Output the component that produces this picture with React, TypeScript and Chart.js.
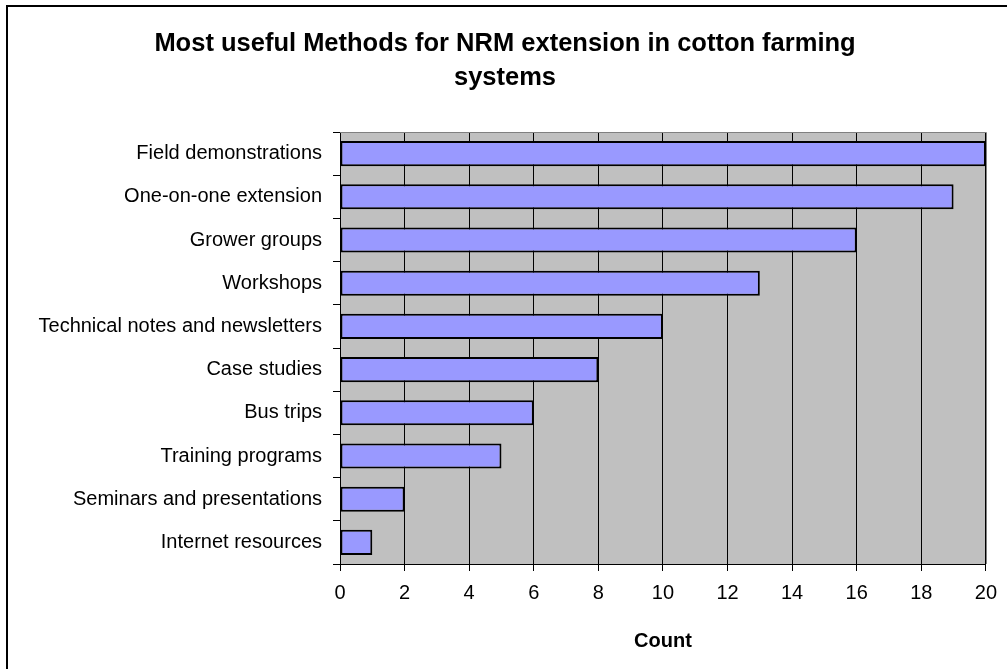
import React, { useEffect, useRef } from "react";
import { Chart, registerables } from "chart.js";

Chart.register(...registerables);

const categories = [
  "Field demonstrations",
  "One-on-one extension",
  "Grower groups",
  "Workshops",
  "Technical notes and newsletters",
  "Case studies",
  "Bus trips",
  "Training programs",
  "Seminars and presentations",
  "Internet resources",
];
const counts = [20, 19, 16, 13, 10, 8, 6, 5, 2, 1];
const titleLines = ["Most useful Methods for NRM extension in cotton farming", "systems"];
const xAxisTitle = "Count";

const FONT = "'Liberation Sans', Arial, sans-serif";

const framePlugin = {
  id: "frame",
  beforeDraw(chart: any) {
    const { ctx, width, height, chartArea } = chart;
    ctx.save();
    ctx.fillStyle = "#ffffff";
    ctx.fillRect(0, 0, width, height);
    ctx.fillStyle = "#000000";
    ctx.fillRect(6, 5, width, 2);
    ctx.fillRect(6, 5, 2, height);
    ctx.fillStyle = "#C0C0C0";
    ctx.fillRect(chartArea.left, chartArea.top, chartArea.right - chartArea.left, chartArea.bottom - chartArea.top);
    ctx.restore();
  },
  beforeDatasetsDraw(chart: any) {
    const { ctx, chartArea } = chart;
    ctx.save();
    ctx.strokeStyle = "#808080";
    ctx.lineWidth = 1;
    ctx.beginPath();
    const t = Math.round(chartArea.top) + 0.5;
    const r = Math.round(chartArea.right) + 0.5;
    ctx.moveTo(chartArea.left, t);
    ctx.lineTo(r, t);
    ctx.lineTo(r, chartArea.bottom);
    ctx.stroke();
    ctx.restore();
  },
};

export default function App() {
  const ref = useRef<HTMLCanvasElement>(null);
  useEffect(() => {
    document.body.style.margin = "0";
    const canvas = ref.current!;
    const chart = new Chart(canvas, {
      type: "bar",
      data: {
        labels: categories,
        datasets: [
          {
            data: counts,
            backgroundColor: "#9999FF",
            borderColor: "#000000",
            borderWidth: 2,
            borderSkipped: false,
            barPercentage: 0.58,
            categoryPercentage: 1,
          },
        ],
      },
      options: {
        indexAxis: "y",
        animation: false,
        responsive: false,
        maintainAspectRatio: false,
        layout: { padding: { top: 10, left: 21, right: 18, bottom: 0 } },
        plugins: {
          legend: { display: false },
          tooltip: { enabled: false },
          title: {
            display: true,
            text: titleLines,
            color: "#000",
            font: { family: FONT, size: 25.5, weight: "bold", lineHeight: "34px" },
            padding: { top: 17, bottom: 37 },
          },
        },
        scales: {
          x: {
            type: "linear",
            min: 0,
            max: 20,
            ticks: { stepSize: 2, color: "#000", font: { family: FONT, size: 20 }, padding: 10 },
            grid: { color: "#000", lineWidth: 1, tickLength: 7, drawTicks: true },
            border: { display: true, color: "#000", width: 1 },
            title: {
              display: true,
              text: xAxisTitle,
              color: "#000",
              font: { family: FONT, size: 20, weight: "bold" },
              padding: { top: 0, bottom: 16 },
            },
            afterFit(scale: any) {
              scale.height = 105;
            },
          },
          y: {
            ticks: { color: "#000", font: { family: FONT, size: 20 }, padding: 11 },
            grid: { color: "#000", drawOnChartArea: false, drawTicks: true, tickLength: 7, offset: true },
            border: { display: true, color: "#000", width: 1 },
            afterFit(scale: any) {
              scale.width = 319;
            },
          },
        },
      },
      plugins: [framePlugin],
    });
    return () => chart.destroy();
  }, []);
  return (
    <div style={{ width: 1007, height: 669 }}>
      <canvas ref={ref} width={1007} height={669} style={{ display: "block", width: 1007, height: 669 }} />
    </div>
  );
}
